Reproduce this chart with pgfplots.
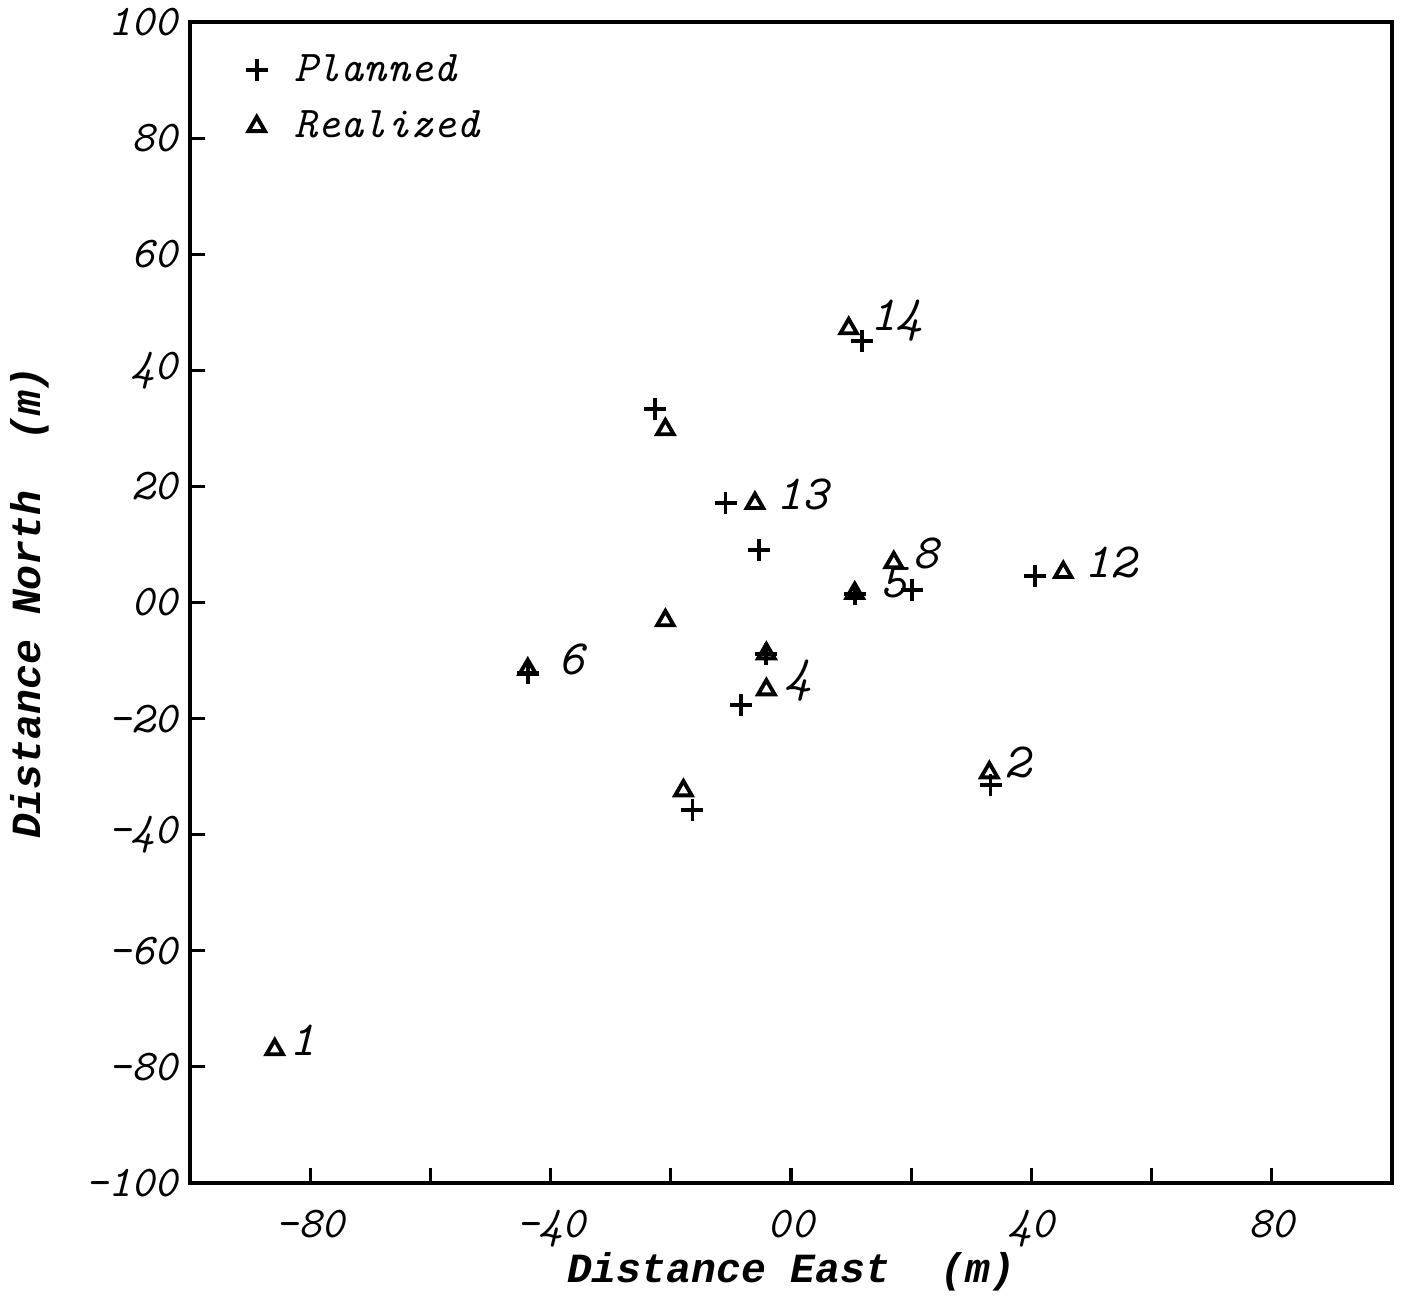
\documentclass[border=0pt]{standalone}
\usepackage{fontspec}
\newfontfamily\labfont{Liberation Mono}
\usepackage{pgfplots}
\pgfplotsset{compat=1.18}
\begin{document}
\begin{tikzpicture}
\begin{axis}[
  scale only axis, width=120.2mm, height=116.1mm,
  xmin=-100, xmax=100, ymin=-100, ymax=100,
  axis line style={line width=1.2pt},
  tick align=inside, xtick pos=lower, ytick pos=left,
  major tick length=1.5mm, minor tick length=1.5mm,
  tick style={line width=0.9pt, black},
  xtick={-80,-40,0,40,80}, xticklabels={-80,-40,00,40,80},
  minor xtick={-60,-20,20,60},
  ytick={-100,-80,-60,-40,-20,0,20,40,60,80,100},
  yticklabels={-100,-80,-60,-40,-20,00,20,40,60,80,100},
  ticklabel style={font=\fontsize{12.5}{14}\selectfont\ttfamily\itshape},
  xticklabel style={yshift=-1.5mm},
  xlabel={Distance East\ \ (m)}, ylabel={Distance North\ \ (m)},
  label style={font=\fontsize{11.8}{14}\selectfont\labfont\bfseries\itshape},
  xlabel style={at={(axis description cs:0.5,-0.0767)}, anchor=center},
  ylabel style={at={(axis description cs:-0.133,0.5)}, anchor=center},
  legend style={at={(axis description cs:0.037,0.985)}, anchor=north west,
    draw=none, fill=none, font=\fontsize{12.5}{14}\selectfont\ttfamily\itshape,
    row sep=1.0mm},
  legend cell align=left,
]
\addplot[only marks, mark=+, mark size=1.1mm, line width=1.1pt] coordinates {
(11.8,45.1) (-22.6,33.4) (-10.9,17.2) (-5.3,9.0) (10.6,1.4) (20.2,2.2)
(40.6,4.5) (-43.8,-12.2) (-4.1,-8.8) (-8.3,-17.6) (-16.4,-35.8) (33.2,-31.5)
};
\addlegendentry{\hspace{2mm}Planned}
\addplot[only marks, mark=triangle, mark size=0.95mm, line width=1.1pt] coordinates {
(9.6,47.2) (-20.9,29.8) (-6.0,17.1) (17.1,6.9) (10.6,1.6) (45.3,5.2)
(-20.9,-3.1) (-43.8,-11.5) (-4.1,-8.8) (-4.1,-15.0) (-17.9,-32.4) (33.0,-29.3)
(-85.9,-77.0)
};
\addlegendentry{\hspace{2mm}Realized}
\begin{scope}[font=\fontsize{14}{16}\selectfont\ttfamily\itshape]
\node at (axis cs:17.6,48.6) {14};
\node at (axis cs:1.9,18.6) {13};
\node at (axis cs:22.4,8.4) {8};
\node at (axis cs:17.1,3.4) {5};
\node at (axis cs:53.1,6.9) {12};
\node at (axis cs:-36.6,-9.8) {6};
\node at (axis cs:1.2,-13.4) {4};
\node at (axis cs:37.6,-27.6) {2};
\node at (axis cs:-81.3,-75.4) {1};
\end{scope}
\coordinate (bl) at (rel axis cs:0,0);
\coordinate (tr) at (rel axis cs:1,1);
\end{axis}
\pgfresetboundingbox
\path ([shift={(-19mm,-11.4mm)}]bl) rectangle ([shift={(1.2mm,2.2mm)}]tr);
\end{tikzpicture}
\end{document}
